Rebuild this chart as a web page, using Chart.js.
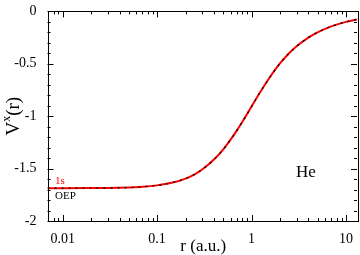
<!DOCTYPE html>
<html>
<head>
<meta charset="utf-8">
<script src="https://cdn.jsdelivr.net/npm/chart.js@4/dist/chart.umd.min.js"></script>
<style>
  html, body { margin: 0; padding: 0; background: #fff; }
  #c { display: block; }
</style>
</head>
<body>
<canvas id="c" width="360" height="255"></canvas>
<script>
// valeurs (He, potentiel d'echange)
const rValues = [0.0069, 0.01, 0.02, 0.03, 0.05, 0.07, 0.1, 0.15, 0.2, 0.25, 0.3, 0.4, 0.5, 0.6, 0.7, 0.85, 1, 1.2, 1.5, 2, 2.5, 3, 4, 5, 7, 10, 13.1];
const vx1s = [-1.687, -1.687, -1.686, -1.685, -1.680, -1.674, -1.660, -1.631, -1.595, -1.554, -1.509, -1.414, -1.318, -1.224, -1.135, -1.014, -0.908, -0.789, -0.652, -0.497, -0.400, -0.333, -0.250, -0.200, -0.143, -0.100, -0.076];
const vxOEP = [-1.687, -1.687, -1.686, -1.685, -1.680, -1.674, -1.660, -1.631, -1.595, -1.554, -1.509, -1.414, -1.318, -1.224, -1.135, -1.014, -0.908, -0.789, -0.652, -0.497, -0.400, -0.333, -0.250, -0.200, -0.143, -0.100, -0.076];
const yTickValues = [-2, -1.5, -1, -0.5, 0];
const xMin = 0.0069, xMax = 13.1;

const FONT = "Liberation Serif";

// ticks x : 1..9 fois chaque decade
const xTicks = [];
for (let e = -3; e <= 1; e++) {
  for (let m = 1; m <= 9; m++) {
    const v = m * Math.pow(10, e);
    if (v >= xMin && v <= xMax) xTicks.push(v);
  }
}
const yMinor = [];
for (let i = 0; i <= 20; i++) yMinor.push(-2 + i * 0.1);

function isDecade(v) {
  const l = Math.log10(v);
  return Math.abs(l - Math.round(l)) < 1e-6;
}
function isHalf(v) {
  return yTickValues.some(t => Math.abs(t - v) < 1e-6);
}

const pts = arr => rValues.map((r, i) => ({ x: r, y: arr[i] }));

// cadre, ticks interieurs et textes
const decor = {
  id: "decor",
  afterDatasetsDraw(chart) {
    const ctx = chart.ctx;
    const a = chart.chartArea;
    const xs = chart.scales.x, ys = chart.scales.y;
    ctx.save();
    ctx.strokeStyle = "#000";
    ctx.lineWidth = 1;
    ctx.beginPath();
    xTicks.forEach(v => {
      const px = Math.round(xs.getPixelForValue(v)) + 0.5;
      const len = isDecade(v) ? 6 : 3;
      ctx.moveTo(px, a.bottom); ctx.lineTo(px, a.bottom - len);
      ctx.moveTo(px, a.top); ctx.lineTo(px, a.top + len);
    });
    yMinor.forEach(v => {
      const py = Math.round(ys.getPixelForValue(v)) + 0.5;
      const len = isHalf(v) ? 6 : 3;
      ctx.moveTo(a.left, py); ctx.lineTo(a.left + len, py);
      ctx.moveTo(a.right, py); ctx.lineTo(a.right - len, py);
    });
    ctx.stroke();
    ctx.strokeRect(Math.round(a.left) + 0.5, Math.round(a.top) + 0.5,
      Math.round(a.right - a.left), Math.round(a.bottom - a.top));

    // legende
    ctx.textBaseline = "alphabetic";
    ctx.textAlign = "left";
    ctx.font = "11px " + FONT;
    ctx.fillStyle = "#ff0000";
    ctx.fillText("1s", 55, 184);
    ctx.fillStyle = "#000";
    ctx.fillText("OEP", 55, 199);

    ctx.font = "17px " + FONT;
    ctx.fillText("He", 296, 177);

    // titre x
    ctx.font = "17px " + FONT;
    ctx.textAlign = "center";
    ctx.fillText("r (a.u.)", (a.left + a.right) / 2 + 1, 251);

    // titre y avec exposant
    ctx.translate(19, (a.top + a.bottom) / 2);
    ctx.rotate(-Math.PI / 2);
    ctx.textAlign = "left";
    ctx.font = "19px " + FONT;
    const wV = ctx.measureText("V").width;
    const wR = ctx.measureText("(r)").width;
    ctx.font = "12px " + FONT;
    const wX = ctx.measureText("x").width;
    let x0 = -(wV + wX + wR) / 2;
    ctx.font = "19px " + FONT;
    ctx.fillText("V", x0, 0);
    ctx.font = "12px " + FONT;
    ctx.fillText("x", x0 + wV, -9);
    ctx.font = "19px " + FONT;
    ctx.fillText("(r)", x0 + wV + wX, 0);
    ctx.restore();
  }
};

new Chart(document.getElementById("c"), {
  type: "line",
  data: {
    datasets: [
      {
        label: "1s",
        data: pts(vx1s),
        borderColor: "#ff0000",
        borderWidth: 2,
        pointRadius: 0,
        order: 2,
        cubicInterpolationMode: "monotone"
      },
      {
        label: "OEP",
        data: pts(vxOEP),
        borderColor: "#000",
        borderWidth: 1.3,
        borderDash: [2, 5],
        pointRadius: 0,
        order: 1,
        cubicInterpolationMode: "monotone"
      }
    ]
  },
  options: {
    responsive: false,
    animation: false,
    devicePixelRatio: 1,
    layout: { padding: { left: 0, right: 3, top: 5, bottom: 0 } },
    plugins: { legend: { display: false }, tooltip: { enabled: false } },
    scales: {
      x: {
        type: "logarithmic",
        min: xMin,
        max: xMax,
        afterBuildTicks: s => { s.ticks = xTicks.map(v => ({ value: v })); },
        afterFit: s => { s.height = 34; },
        grid: { display: false },
        border: { display: false },
        ticks: {
          autoSkip: false,
          maxRotation: 0,
          padding: 2,
          color: "#000",
          font: { family: FONT, size: 14 },
          callback: v => isDecade(v) ? String(+v.toPrecision(3)) : ""
        }
      },
      y: {
        min: -2,
        max: 0,
        afterBuildTicks: s => { s.ticks = yMinor.map(v => ({ value: v })); },
        afterFit: s => { s.width = 47.5; },
        grid: { display: false },
        border: { display: false },
        ticks: {
          autoSkip: false,
          padding: 3,
          color: "#000",
          font: { family: FONT, size: 14 },
          callback: v => isHalf(v) ? String(Math.round(v * 2) / 2) : ""
        }
      }
    }
  },
  plugins: [decor]
});
</script>
</body>
</html>
